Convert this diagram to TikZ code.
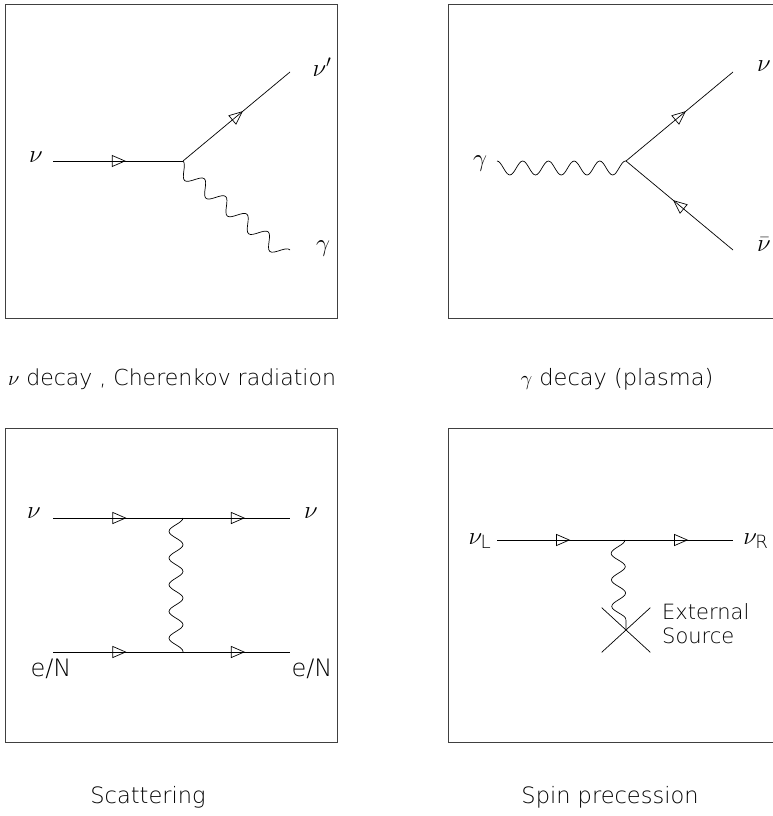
\documentclass[tikz,border=0pt]{standalone}
\usepackage{amsmath}
\usepackage{fontspec}
\setmainfont{DejaVuSans-ExtraLight.ttf}
\usetikzlibrary{arrows.meta,decorations.markings,shapes.misc}

% one-sided wave: crests on the line, troughs to the right of travel
\pgfdeclaredecoration{photonwave}{start}{
  \state{start}[width=\pgfdecorationsegmentlength]{
    \pgfpathcurveto
      {\pgfpoint{0.18\pgfdecorationsegmentlength}{0pt}}
      {\pgfpoint{0.32\pgfdecorationsegmentlength}{-\pgfdecorationsegmentamplitude}}
      {\pgfpoint{0.5\pgfdecorationsegmentlength}{-\pgfdecorationsegmentamplitude}}
    \pgfpathcurveto
      {\pgfpoint{0.68\pgfdecorationsegmentlength}{-\pgfdecorationsegmentamplitude}}
      {\pgfpoint{0.82\pgfdecorationsegmentlength}{0pt}}
      {\pgfpoint{\pgfdecorationsegmentlength}{0pt}}
  }
  \state{final}{\pgfpathlineto{\pgfpointdecoratedpathlast}}
}

\begin{document}
\begin{tikzpicture}[
  x=1pt, y=-1pt,
  frame/.style={draw=black!75, line width=0.9pt},
  fermion/.style={line width=0.7pt, postaction={decorate},
    decoration={markings, mark=at position #1 with {\arrow{Triangle[open, length=14pt, width=12pt]}}}},
  fermion/.default=0.56,
  fermiontwo/.style={line width=0.7pt, postaction={decorate},
    decoration={markings,
      mark=at position 0.31 with {\arrow{Triangle[open, length=14pt, width=12pt]}},
      mark=at position 0.81 with {\arrow{Triangle[open, length=14pt, width=12pt]}}}},
  photon/.style={line width=0.7pt, decorate, decoration={photonwave, segment length=#1, amplitude=14pt}},
  lbl/.style={inner sep=0pt, font=\fontsize{26}{28}\selectfont},
  txt/.style={inner sep=0pt, font=\fontsize{22.5}{26}\selectfont}
]
\useasboundingbox (0,0) rectangle (773,816);
\clip (0,0) rectangle (773,816);

% nu decay
\draw[frame] (5,4) rectangle (337,318);
\coordinate (inA) at (53,161);
\coordinate (vA) at (183,161);
\coordinate (outA) at (290,72);
\coordinate (gA) at (290,250);
\node[lbl] (nuA) at (36,157) {$\nu$};
\node[lbl] (nupA) at (322,67) {$\nu'$};
\node[lbl] (gamA) at (323,249) {$\gamma$};
\draw[fermion] (inA) -- (vA);
\draw[fermion] (vA) -- (outA);
\draw[photon=27.7pt] (vA) -- (gA);
\node[txt, font=\fontsize{22}{26}\selectfont] (capA) at (172,379) {$\nu$ decay , Cherenkov radiation};

% gamma decay
\draw[frame] (448,4) rectangle (800,318);
\coordinate (gB) at (497,161);
\coordinate (vB) at (626,161);
\coordinate (nuoutB) at (733,72);
\coordinate (barB) at (733,250);
\node[lbl] (gamB) at (480,164) {$\gamma$};
\node[lbl] (nuB) at (764,66) {$\nu$};
\node[lbl] (nubarB) at (764,245) {$\bar{\nu}$};
\draw[photon=25.7pt] (gB) -- (vB);
\draw[fermion] (vB) -- (nuoutB);
\draw[fermion] (barB) -- (vB);
\node[txt] (capB) at (617,379) {$\gamma$ decay (plasma)};

% scattering
\draw[frame] (5,428) rectangle (337,742);
\coordinate (inC) at (53,518);
\coordinate (outC) at (290,518);
\coordinate (tinC) at (53,652);
\coordinate (toutC) at (290,652);
\coordinate (vtopC) at (183,518);
\coordinate (vbotC) at (183,652);
\node[lbl] (nuinC) at (34,513) {$\nu$};
\node[lbl] (nuoutC) at (311,513) {$\nu$};
\node[txt, font=\fontsize{24}{28}\selectfont] (tinlC) at (51,669) {e/N};
\node[txt, font=\fontsize{24}{28}\selectfont] (toutlC) at (312,669) {e/N};
\draw[fermiontwo] (inC) -- (outC);
\draw[fermiontwo] (tinC) -- (toutC);
\draw[photon=26.7pt] (vtopC) -- (vbotC);
\node[txt] (capC) at (148,797) {Scattering};

% spin precession
\draw[frame] (448,428) rectangle (800,742);
\coordinate (inD) at (497,540);
\coordinate (outD) at (733,540);
\coordinate (vD) at (625,540);
\node[lbl] (nuL) at (480,541) {$\nu_{\text{L}}$};
\node[lbl] (nuR) at (756,541) {$\nu_{\text{R}}$};
\node[draw, cross out, line width=0.7pt, minimum width=48pt, minimum height=44pt] (src) at (626,630) {};
\node[txt, anchor=west, align=left, font=\fontsize{21}{24}\selectfont] (srclbl) at (662,624) {External\\Source};
\draw[fermiontwo] (inD) -- (outD);
\draw[photon=26.5pt] (vD) -- (src.center);
\node[txt] (capD) at (610,797) {Spin precession};
\end{tikzpicture}
\end{document}
